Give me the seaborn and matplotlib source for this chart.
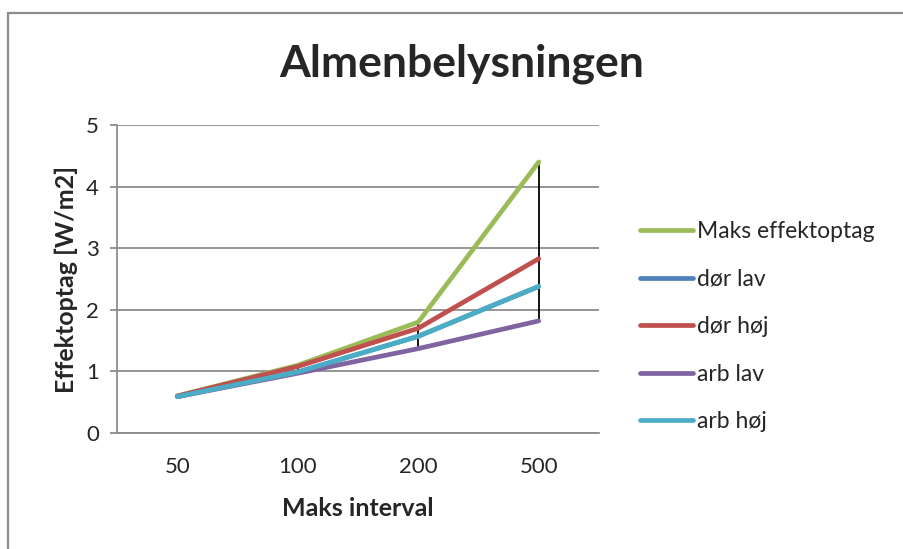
import matplotlib.pyplot as plt
from matplotlib.lines import Line2D
import pandas as pd
import seaborn as sns

# data
categories = ['50', '100', '200', '500']
maks_effektoptag = [0.60, 1.10, 1.80, 4.40]
dor_lav = [0.59, 0.99, 1.57, 2.38]
dor_hoj = [0.60, 1.08, 1.70, 2.83]
arb_lav = [0.59, 0.97, 1.37, 1.82]
arb_hoj = [0.59, 0.99, 1.57, 2.38]

series_names = ['Maks effektoptag', 'dør lav', 'dør høj', 'arb lav', 'arb høj']
series_values = [maks_effektoptag, dor_lav, dor_hoj, arb_lav, arb_hoj]
colors = ['#9BBB59', '#4F81BD', '#C0504D', '#8064A2', '#4BACC6']

rows = []
for name, vals in zip(series_names, series_values):
    for i, (cat, v) in enumerate(zip(categories, vals)):
        rows.append({'serie': name, 'pos': i, 'kategori': cat, 'værdi': v})
df = pd.DataFrame(rows)

sns.set_style('white')
plt.rcParams['font.family'] = ['Lato', 'DejaVu Sans']

fig = plt.figure(figsize=(9.04, 5.49), dpi=100)
fig.patch.set_linewidth(0)
ax = fig.add_axes([0.1294, 0.2113, 0.5332, 0.5610])

# chart border (Excel-style), only top and left are inside the picture
bx, by = 7.5 / 904, 1 - 12.5 / 549
fig.lines.append(Line2D([bx, bx], [0, by], transform=fig.transFigure, color='#8C8C8C', linewidth=1.6))
fig.lines.append(Line2D([bx, 1.05], [by, by], transform=fig.transFigure, color='#8C8C8C', linewidth=1.6))

# high-low lines
lo = df.groupby('pos')['værdi'].min()
hi = df.groupby('pos')['værdi'].max()
ax.vlines(lo.index, lo.values, hi.values, color='black', linewidth=1.3, zorder=2)

for name, col in zip(series_names, colors):
    sns.lineplot(data=df[df['serie'] == name], x='pos', y='værdi', color=col,
                 linewidth=3.4, label=name, ax=ax, zorder=3,
                 solid_capstyle='round', solid_joinstyle='round')

ax.set_xlim(-0.5, 3.5)
ax.set_ylim(0, 5)
ax.set_xticks(range(len(categories)))
ax.set_xticklabels(categories)
ax.set_yticks(range(0, 6))
ax.grid(axis='y', color='#8C8C8C', linewidth=1.3)
ax.set_axisbelow(True)
for s in ['top', 'right']:
    ax.spines[s].set_visible(False)
for s in ['left', 'bottom']:
    ax.spines[s].set_color('#8C8C8C')
    ax.spines[s].set_linewidth(1.3)
ax.tick_params(axis='y', left=True, length=5, width=1.3, color='#8C8C8C',
               labelsize=16, pad=8)
ax.tick_params(axis='x', bottom=False, labelsize=16, pad=14)

ax.set_xlabel('Maks interval', fontsize=18, fontweight='bold', labelpad=14)
ax.set_ylabel('Effektoptag [W/m2]', fontsize=18, fontweight='bold', labelpad=6)
fig.text(0.511, 0.883, 'Almenbelysningen', ha='center', va='center',
         fontsize=32, fontweight='bold')

leg = ax.legend(loc='upper left', bbox_to_anchor=(0.698, 0.614), bbox_transform=fig.transFigure,
                frameon=False, fontsize=16.5, handlelength=2.3, handletextpad=0.2,
                labelspacing=1.16, borderaxespad=0)

fig.savefig('out.png', dpi=100)
